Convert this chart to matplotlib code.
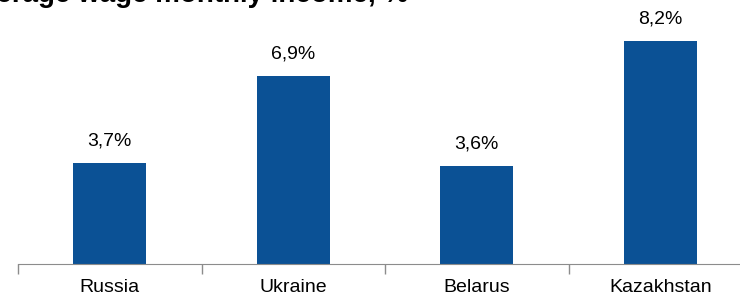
import matplotlib.pyplot as plt
import numpy as np

plt.rcParams['font.family'] = ['Liberation Sans', 'DejaVu Sans']

# ---- data ----
countries = ["Russia", "Ukraine", "Belarus", "Kazakhstan"]
growth = [3.7, 6.9, 3.6, 8.2]
labels = ["3,7%", "6,9%", "3,6%", "8,2%"]

fig = plt.figure(figsize=(7.4, 2.98), dpi=100)
ax = fig.add_axes([18 / 740, 34 / 298, 734 / 740, 264 / 298])

x = np.arange(len(countries))
ax.bar(x, growth, width=0.4, color='#0B5195')

for xi, v, lab in zip(x, growth, labels):
    ax.text(xi, v + 0.65, lab, ha='center', va='baseline', fontsize=14)

ax.set_xlim(-0.5, 3.5)
ax.set_ylim(0, 9.7)
ax.set_yticks([])

# category boundary ticks
ax.set_xticks(np.arange(-0.5, 4.0, 1.0))
ax.set_xticklabels([])
ax.set_xticks(x, minor=True)
ax.set_xticklabels(countries, minor=True, fontsize=14)
ax.tick_params(axis='x', which='major', length=7, color='#8c8c8c', width=1)
ax.tick_params(axis='x', which='minor', length=0, pad=11)

for s in ['top', 'right', 'left']:
    ax.spines[s].set_visible(False)
ax.spines['bottom'].set_color('#8c8c8c')

# title, mostly cut off at the top of the image
fig.text(-0.051, 1 - 2 / 298, "Average wage monthly income, %", fontsize=20,
         fontweight='bold', va='baseline', ha='left')

fig.savefig('out.png', dpi=100)
